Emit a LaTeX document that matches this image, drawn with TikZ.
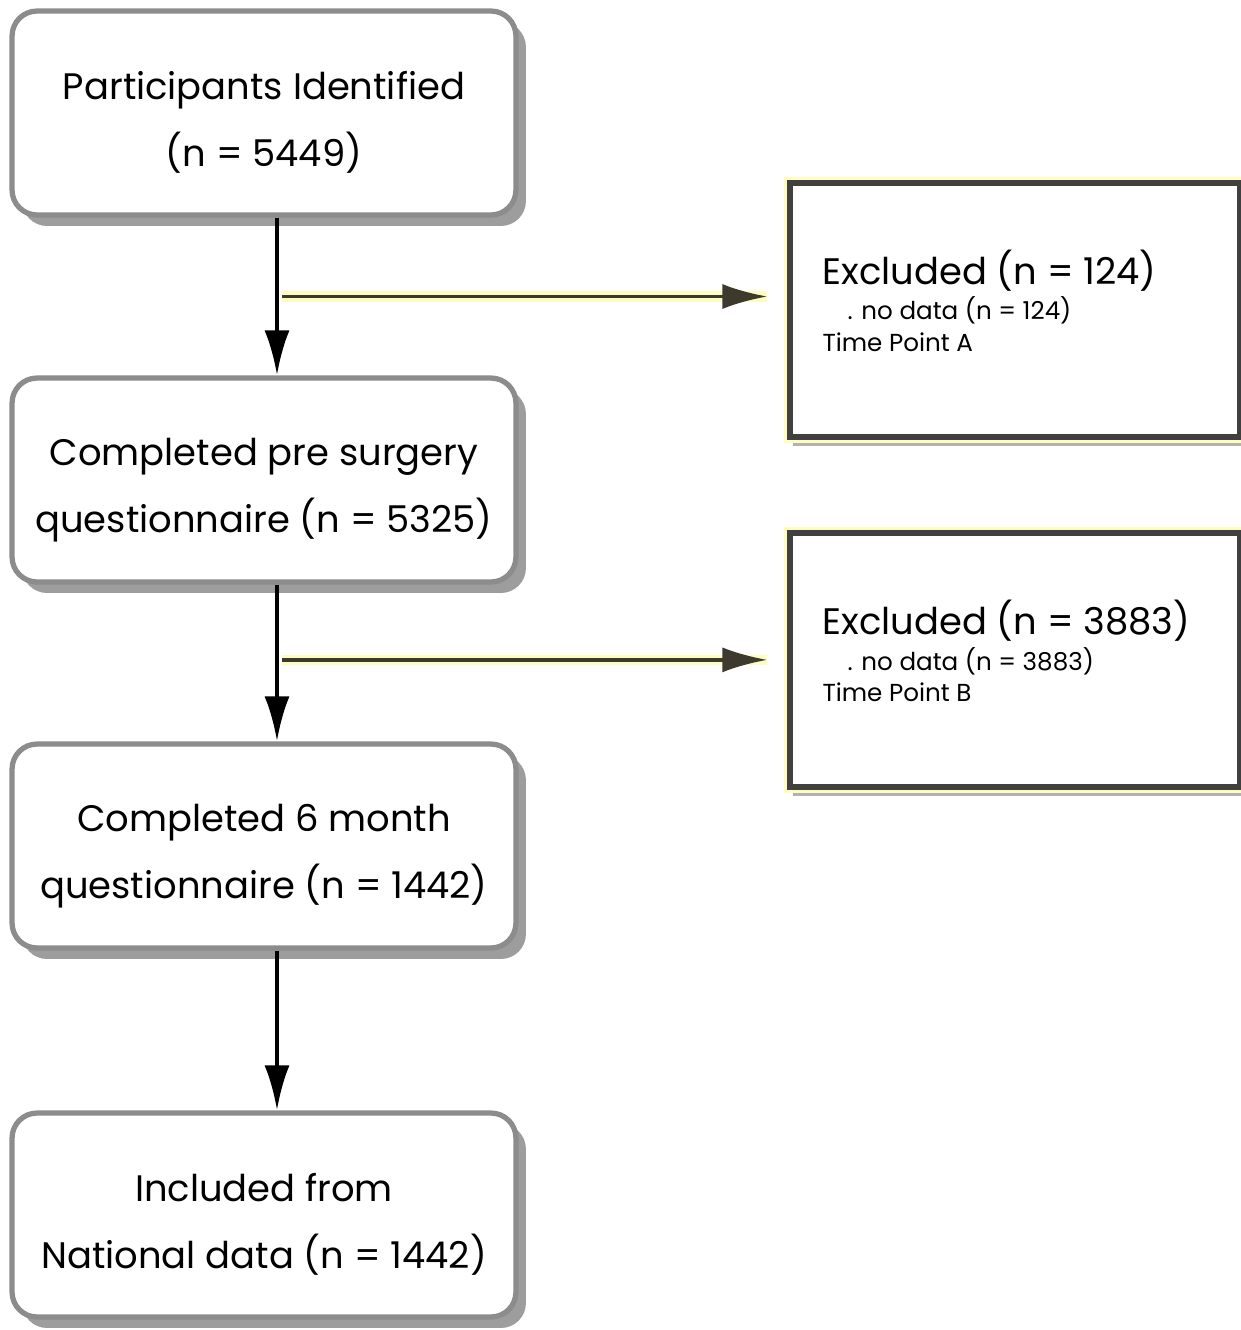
\documentclass[tikz,border=0pt]{standalone}
\usepackage{fontspec}
\setmainfont{Poppins}
\usetikzlibrary{arrows.meta,shadows}
\newcommand{\chico}{\fontsize{14}{18}\selectfont}
\newcommand{\alto}{\rule{0pt}{0.95cm}}
\newcommand{\bajo}{\rule[-0.36cm]{0pt}{0pt}}

\begin{document}
\begin{tikzpicture}[x=0.02cm,y=-0.02cm]
\useasboundingbox (0,0) rectangle (1241,1330);
%----------estilos---------
\tikzset{paso/.style={
rectangle,
rounded corners=0.5cm,
draw=black!45,
line width=3pt,
fill=white,
minimum width=10.08cm,
minimum height=4.08cm,
align=center,
font=\fontsize{21}{38}\selectfont,
drop shadow={shadow xshift=0.2cm,shadow yshift=-0.22cm,fill=black!70,opacity=0.55}},
excluido/.style={
rectangle,
draw=black!75,
line width=3pt,
fill=white,
minimum width=9cm,
minimum height=5.08cm,
text width=7.7cm,
inner xsep=0.65cm,
align=flush left,
font=\fontsize{21}{24}\selectfont,
drop shadow={shadow xshift=0.05cm,shadow yshift=-0.18cm,fill=black!60,opacity=0.5},
preaction={draw=yellow!25,line width=7pt}},
flecha/.style={-{Latex[length=0.9cm,width=0.5cm]},line width=2.5pt,black},
lateral/.style={-{Latex[length=0.9cm,width=0.5cm]},line width=2pt,draw=black!75!olive,
shorten >=0.4cm,preaction={draw=yellow!25,line width=6pt,arrows=-}}};

%----------cajas centrales---------
\node [paso] (ident) at (264,113) {\alto Participants Identified\\(n = 5449)};
\node [paso] (pre) at (264,480) {\alto Completed pre surgery\\questionnaire (n = 5325)};
\node [paso] (mes) at (264,846) {\alto Completed 6 month\\questionnaire (n = 1442)};
\node [paso] (incl) at (264,1215) {\alto Included from\\National data (n = 1442)};

%----------excluidos---------
\node [excluido] (exclA) at (1015,310) {Excluded (n = 124)\\[-4pt]
{\chico\hspace*{0.5cm}. no data (n = 124)}\\[-6pt]
{\chico Time Point A\bajo}};
\node [excluido] (exclB) at (1015,660) {Excluded (n = 3883)\\[-4pt]
{\chico\hspace*{0.5cm}. no data (n = 3883)}\\[-6pt]
{\chico Time Point B\bajo}};

%----------flechas---------
\draw [flecha] ([xshift=0.26cm]ident.south) -- coordinate[pos=0.5] (splitA) ([xshift=0.26cm]pre.north);
\draw [flecha] ([xshift=0.26cm]pre.south) -- coordinate[pos=0.48] (splitB) ([xshift=0.26cm]mes.north);
\draw [flecha] ([xshift=0.26cm]mes.south) -- ([xshift=0.26cm]incl.north);
\draw [lateral] ([xshift=0.1cm]splitA) -- (splitA -| exclA.west);
\draw [lateral] ([xshift=0.1cm]splitB) -- (splitB -| exclB.west);
\end{tikzpicture}
\end{document}
